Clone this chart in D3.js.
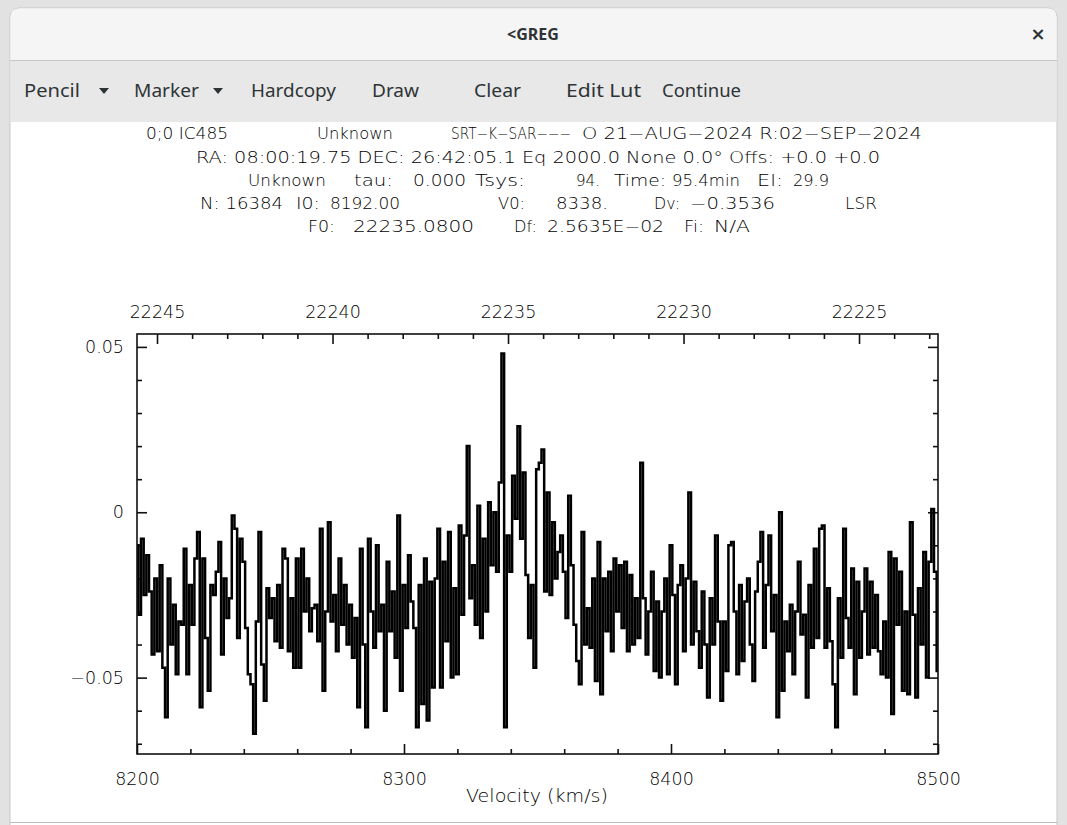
<!DOCTYPE html>
<html>
<head>
<meta charset="utf-8">
<script src="https://cdn.jsdelivr.net/npm/d3@7"></script>
<style>
  html, body { margin: 0; padding: 0; background: #e4e4e4; }
  svg { display: block; }
  text { white-space: pre; }
</style>
</head>
<body>
<script>
// ---------- data ----------
const velStart = 8200;          // km/s, first channel
const velStep = 1;              // km/s per plotted channel
const intensity = [
 -0.010,-0.031,-0.008,-0.025,-0.013,-0.024,-0.043,-0.020,-0.042,-0.016,
 -0.047,-0.062,-0.020,-0.040,-0.028,-0.049,-0.033,-0.034,-0.011,-0.049,
 -0.022,-0.034,-0.014,-0.006,-0.059,-0.014,-0.038,-0.054,-0.022,-0.025,
 -0.018,-0.009,-0.043,-0.020,-0.032,-0.026,-0.001,-0.005,-0.038,-0.008,
 -0.015,-0.035,-0.049,-0.052,-0.067,-0.033,-0.006,-0.046,-0.057,-0.023,
 -0.032,-0.026,-0.039,-0.022,-0.041,-0.011,-0.014,-0.042,-0.026,-0.047,
 -0.014,-0.047,-0.011,-0.030,-0.020,-0.036,-0.029,-0.028,-0.039,-0.005,
 -0.054,-0.030,-0.003,-0.033,-0.025,-0.042,-0.014,-0.034,-0.022,-0.040,
 -0.028,-0.044,-0.032,-0.059,-0.011,-0.040,-0.065,-0.008,-0.030,-0.041,
 -0.010,-0.036,-0.028,-0.060,-0.015,-0.036,-0.024,-0.044,-0.001,-0.054,
 -0.022,-0.035,-0.013,-0.027,-0.035,-0.065,-0.022,-0.058,-0.014,-0.063,
 -0.021,-0.053,-0.020,-0.005,-0.053,-0.015,-0.039,-0.006,-0.050,-0.023,
 -0.049,-0.004,-0.031,-0.007, 0.020,-0.026,-0.016,-0.034, 0.002,-0.038,
 -0.008,-0.030, 0.003,-0.016, 0.000,-0.018, 0.009, 0.048,-0.065,-0.007,
 -0.018, 0.011,-0.002, 0.026,-0.008, 0.012,-0.019,-0.038,-0.022,-0.047,
  0.013, 0.015, 0.019,-0.024, 0.006,-0.025,-0.003,-0.020,-0.012,-0.007,
 -0.018,-0.032, 0.005,-0.016,-0.034,-0.045,-0.052,-0.006,-0.040,-0.029,
 -0.041,-0.020,-0.051,-0.009,-0.055,-0.020,-0.036,-0.018,-0.042,-0.014,
 -0.030,-0.016,-0.035,-0.015,-0.042,-0.019,-0.040,-0.026,-0.038, 0.015,
 -0.026,-0.043,-0.030,-0.018,-0.048,-0.027,-0.050,-0.030,-0.020,-0.049,
 -0.010,-0.025,-0.052,-0.022,-0.016,-0.042,-0.020, 0.006,-0.040,-0.021,
 -0.036,-0.047,-0.024,-0.040,-0.056,-0.026,-0.040,-0.007,-0.033,-0.057,
 -0.033,-0.048,-0.010,-0.009,-0.030,-0.049,-0.022,-0.045,-0.027,-0.020,
 -0.040,-0.051,-0.024,-0.015,-0.006,-0.041,-0.022,-0.007,-0.036,-0.025,
 -0.062, 0.000,-0.054,-0.033,-0.042,-0.028,-0.049,-0.030,-0.015,-0.037,
 -0.031,-0.056,-0.022,-0.041,-0.011,-0.038,-0.005,-0.004,-0.041,-0.023,
 -0.039,-0.052,-0.065,-0.026,-0.044,-0.005,-0.032,-0.041,-0.017,-0.055,
 -0.021,-0.044,-0.030,-0.017,-0.043,-0.021,-0.041,-0.025,-0.042,-0.049,
 -0.033,-0.050,-0.012,-0.061,-0.014,-0.034,-0.018,-0.054,-0.030,-0.055,
 -0.003,-0.031,-0.056,-0.023,-0.040,-0.012,-0.050,-0.015, 0.001,-0.018,
 -0.048
];
const velocity = d3.range(intensity.length).map(i => velStart + i * velStep);

const velDomain = [8200, 8500];
const freqDomain = [22245.57, 22222.75];     // top axis (MHz), reversed
const yDomain = [-0.0731, 0.0539];

const velMajor = [8200, 8300, 8400, 8500];
const velMinor = [8220, 8240, 8260, 8280, 8320, 8340, 8360, 8380, 8420, 8440, 8460, 8480];
const freqMajor = [22245, 22240, 22235, 22230, 22225];
const freqMinor = [22244, 22243, 22242, 22241, 22239, 22238, 22237, 22236, 22234, 22233, 22232, 22231,
                   22229, 22228, 22227, 22226, 22224, 22223];
const yMajor = [0.05, 0, -0.05];
const yMinor = [0.04, 0.03, 0.02, 0.01, -0.01, -0.02, -0.03, -0.04, -0.06, -0.07];

// header: each line split into its words/fields
const headerLines = [
  ["0;0 IC485", "Unknown", "SRT−K−SAR−−−", "O 21−AUG−2024 R:02−SEP−2024"],
  ["RA: 08:00:19.75 DEC: 26:42:05.1 Eq 2000.0 None 0.0° Offs: +0.0 +0.0"],
  ["Unknown", "tau:", "0.000", "Tsys:", "94.", "Time:", "95.4min", "El:", "29.9"],
  ["N: 16384", "I0:", "8192.00", "V0:", "8338.", "Dv:", "−0.3536", "LSR"],
  ["F0:", "22235.0800", "Df:", "2.5635E−02", "Fi:", "N/A"]
];
const toolbarItems = ["Pencil", "Marker", "Hardcopy", "Draw", "Clear", "Edit Lut", "Continue"];
const xLabel = "Velocity (km/s)";
const windowTitle = "<GREG";

// ---------- layout ----------
const W = 1067, H = 825;
const plot = { left: 137, right: 938, top: 334, bottom: 754 };

const svg = d3.select("body").append("svg").attr("width", W).attr("height", H);

// window chrome
svg.append("rect").attr("x", 0).attr("y", 0).attr("width", W).attr("height", H).attr("fill", "#e2e2e2");
svg.append("rect").attr("x", 10).attr("y", 8).attr("width", 1047).attr("height", 840)
   .attr("rx", 9).attr("fill", "#ffffff").attr("stroke", "#c9c9c9");
svg.append("path").attr("d", "M10.5,60 V17 Q10.5,8.5 19,8.5 H1048 Q1056.5,8.5 1056.5,17 V60 Z").attr("fill", "#f5f5f5");
svg.append("rect").attr("x", 10.5).attr("y", 60).attr("width", 1046).attr("height", 62).attr("fill", "#e8e8e8");
svg.append("line").attr("x1", 10).attr("x2", 1057).attr("y1", 60.5).attr("y2", 60.5).attr("stroke", "#c8c8c8");
svg.append("line").attr("x1", 10).attr("x2", 1057).attr("y1", 822.5).attr("y2", 822.5).attr("stroke", "#bdbdbd");

svg.append("text").attr("x", 533).attr("y", 40).attr("text-anchor", "middle")
   .attr("font-family", "Noto Sans").attr("font-size", 16).attr("font-weight", 700).attr("fill", "#2e3436")
   .text(windowTitle);
svg.append("text").attr("x", 1038).attr("y", 40).attr("text-anchor", "middle")
   .attr("font-family", "DejaVu Sans").attr("font-size", 18).attr("font-weight", 700).attr("fill", "#2e3436")
   .text("×");

const tbX = [24, 134, 251, 372, 474, 566, 662];
const tbW = [56, 65, 85, 47, 47, 75, 79];
svg.append("g").selectAll("text").data(toolbarItems).join("text")
   .attr("x", (d, i) => tbX[i]).attr("y", 97)
   .attr("textLength", (d, i) => tbW[i]).attr("lengthAdjust", "spacingAndGlyphs")
   .attr("font-family", "Noto Sans").attr("font-size", 18.5).attr("fill", "#2e3436")
   .text(d => d);
[104, 218].forEach(cx => {
  svg.append("path").attr("d", `M${cx - 5},88 L${cx + 5},88 L${cx},94 Z`).attr("fill", "#2e3436");
});

// header text block: [start, end] of every field, per line
const hdrY = [139, 163, 186, 209, 232];
const hdrSpans = [
  [[146, 228], [317, 393], [451, 571], [582, 922]],
  [[196, 880]],
  [[248, 326], [354, 393], [413, 466], [475, 525], [576, 600], [614, 666], [672, 740], [757, 783], [793, 829]],
  [[200, 283], [296, 320], [330, 400], [498, 525], [556, 608], [654, 680], [690, 775], [845, 877]],
  [[308, 335], [353, 474], [514, 537], [547, 664], [684, 704], [714, 750]]
];
const hdrG = svg.append("g").attr("font-family", "DejaVu Sans").attr("font-size", 15)
   .attr("font-weight", 300).attr("fill", "#000");
headerLines.forEach((fields, li) => {
  hdrG.append("g").selectAll("text").data(fields).join("text")
     .attr("x", (d, i) => hdrSpans[li][i][0]).attr("y", hdrY[li])
     .attr("textLength", (d, i) => hdrSpans[li][i][1] - hdrSpans[li][i][0])
     .attr("lengthAdjust", "spacingAndGlyphs")
     .text(d => d);
});

// ---------- scales ----------
const x = d3.scaleLinear().domain(velDomain).range([plot.left, plot.right]);
const xf = d3.scaleLinear().domain(freqDomain).range([plot.left, plot.right]);
const y = d3.scaleLinear().domain(yDomain).range([plot.bottom, plot.top]);

const labelFont = "DejaVu Sans";
function styleAxis(g) {
  g.select(".domain").remove();
  g.selectAll(".tick line").attr("stroke", "#111").attr("stroke-width", 1.6);
  g.selectAll(".tick text").attr("font-family", labelFont).attr("font-size", 17.5)
   .attr("font-weight", 300).attr("fill", "#000");
}

// minor ticks
svg.append("g").attr("transform", `translate(0,${plot.bottom})`)
   .call(d3.axisBottom(x).tickValues(velMinor).tickSize(-5).tickFormat("")).call(styleAxis);
svg.append("g").attr("transform", `translate(0,${plot.top})`)
   .call(d3.axisTop(xf).tickValues(freqMinor).tickSize(-5).tickFormat("")).call(styleAxis);
svg.append("g").attr("transform", `translate(${plot.left},0)`)
   .call(d3.axisLeft(y).tickValues(yMinor).tickSize(-5).tickFormat("")).call(styleAxis);
svg.append("g").attr("transform", `translate(${plot.right},0)`)
   .call(d3.axisRight(y).tickValues(yMinor).tickSize(-5).tickFormat("")).call(styleAxis);

// major ticks with labels
svg.append("g").attr("transform", `translate(0,${plot.bottom})`)
   .call(d3.axisBottom(x).tickValues(velMajor).tickSize(-10).tickPadding(19).tickFormat(d3.format("d")))
   .call(styleAxis);
svg.append("g").attr("transform", `translate(0,${plot.top})`)
   .call(d3.axisTop(xf).tickValues(freqMajor).tickSize(-10).tickPadding(16).tickFormat(d3.format("d")))
   .call(styleAxis);
svg.append("g").attr("transform", `translate(${plot.left},0)`)
   .call(d3.axisLeft(y).tickValues(yMajor).tickSize(-10).tickPadding(13)
         .tickFormat(d => d === 0 ? "0" : d3.format(".2f")(d)))
   .call(styleAxis);
svg.append("g").attr("transform", `translate(${plot.right},0)`)
   .call(d3.axisRight(y).tickValues(yMajor).tickSize(-10).tickFormat(""))
   .call(styleAxis);

// spectrum (histogram style)
svg.append("clipPath").attr("id", "clip").append("rect")
   .attr("x", plot.left).attr("y", plot.top).attr("width", plot.right - plot.left).attr("height", plot.bottom - plot.top);
const line = d3.line().x((d, i) => x(velocity[i])).y(d => y(d)).curve(d3.curveStep);
svg.append("path").datum(intensity).attr("clip-path", "url(#clip)")
   .attr("d", line).attr("fill", "none").attr("stroke", "#000").attr("stroke-width", 2.5)
   .attr("stroke-linejoin", "miter");

// frame
svg.append("rect").attr("x", plot.left).attr("y", plot.top)
   .attr("width", plot.right - plot.left).attr("height", plot.bottom - plot.top)
   .attr("fill", "none").attr("stroke", "#111").attr("stroke-width", 1.6);

// axis title
svg.append("text").attr("x", 466).attr("y", 802)
   .attr("textLength", 142).attr("lengthAdjust", "spacingAndGlyphs")
   .attr("font-family", labelFont).attr("font-size", 17).attr("font-weight", 300).attr("fill", "#000")
   .text(xLabel);
</script>
</body>
</html>
